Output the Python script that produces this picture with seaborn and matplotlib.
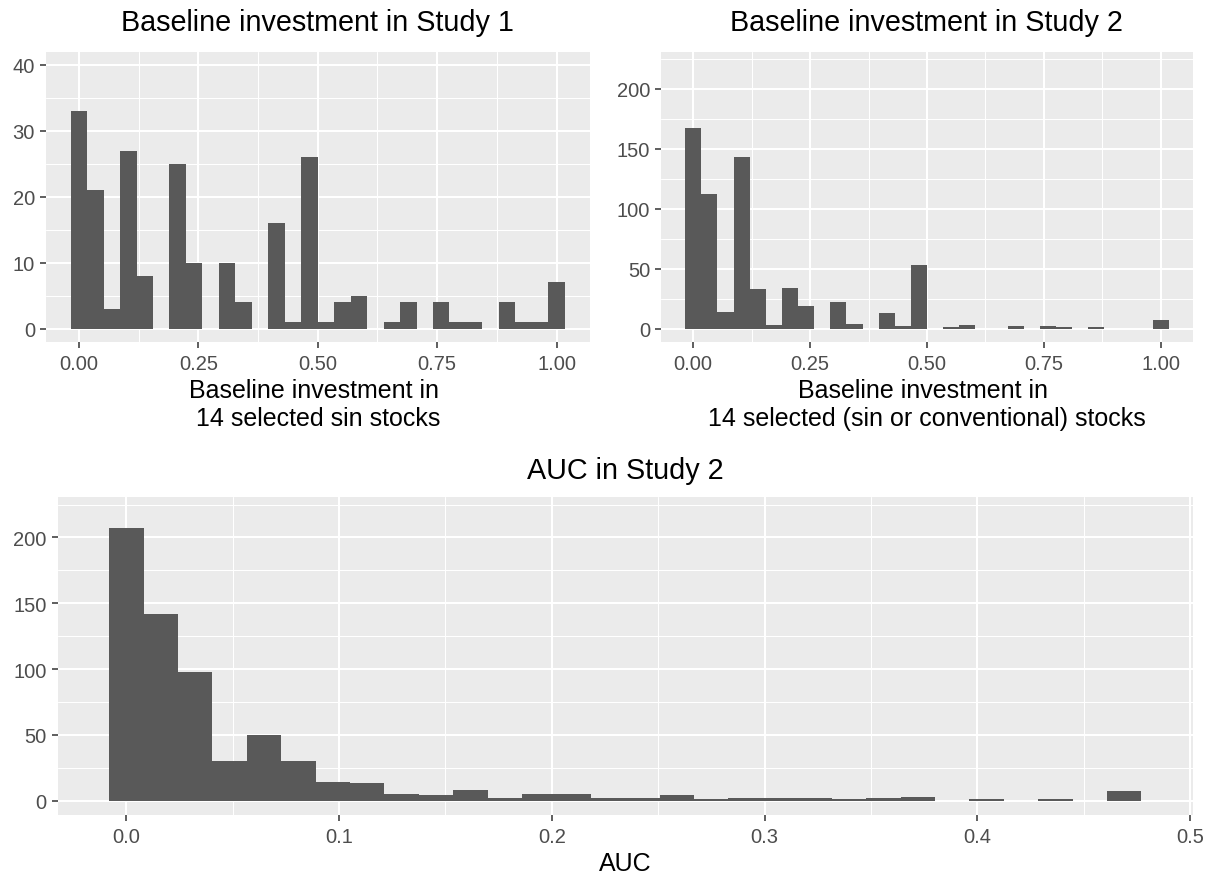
import numpy as np
import pandas as pd
import matplotlib
matplotlib.use("Agg")
import matplotlib.pyplot as plt
import seaborn as sns
from matplotlib.ticker import FixedLocator

# ---------------- data (bin counts, 30 bins each) ----
study1_counts = [33, 21, 3, 27, 8, 0, 25, 10, 0, 10, 4, 0, 16, 1, 26,
                 1, 4, 5, 0, 1, 4, 0, 4, 1, 1, 0, 4, 1, 1, 7]
study2_counts = [167, 112, 14, 143, 33, 3, 34, 19, 0, 22, 4, 0, 13, 2, 53,
                 0, 1, 3, 0, 0, 2, 0, 2, 1, 0, 1, 0, 0, 0, 7]
auc_counts = [207, 142, 98, 30, 50, 30, 14, 13, 5, 4, 8, 2, 5, 5, 2,
              2, 4, 1, 2, 2, 2, 1, 2, 3, 0, 1, 0, 1, 0, 7]

# data range (min, max) of each variable
study1_range = (0.0, 1.0)
study2_range = (0.0, 1.0)
auc_range = (0.0, 0.469)

titles = ["Baseline investment in Study 1",
          "Baseline investment in Study 2",
          "AUC in Study 2"]
xlabels = ["Baseline investment in \n14 selected sin stocks",
           "Baseline investment in \n14 selected (sin or conventional) stocks",
           "AUC"]

inv_ticks = [0.0, 0.25, 0.5, 0.75, 1.0]
inv_ticklabels = ["0.00", "0.25", "0.50", "0.75", "1.00"]
auc_ticks = [0.0, 0.1, 0.2, 0.3, 0.4, 0.5]
auc_ticklabels = ["0.0", "0.1", "0.2", "0.3", "0.4", "0.5"]
s1_yticks = [0, 10, 20, 30, 40]
s2_yticks = [0, 50, 100, 150, 200]

# ---------------- styling ----------------
sns.set_theme(style="darkgrid", rc={
    "axes.facecolor": "#EBEBEB",
    "grid.color": "white",
    "axes.edgecolor": "#EBEBEB",
    "axes.linewidth": 0,
    "xtick.bottom": True,
    "ytick.left": True,
    "xtick.color": "#333333",
    "ytick.color": "#333333",
    "xtick.labelcolor": "#4D4D4D",
    "ytick.labelcolor": "#4D4D4D",
    "xtick.major.size": 4,
    "ytick.major.size": 4,
    "xtick.major.width": 1.1,
    "ytick.major.width": 1.1,
    "xtick.major.pad": 4.5,
    "ytick.major.pad": 3.8,
    "figure.facecolor": "white",
})
plt.rcParams["font.family"] = ["Liberation Sans", "DejaVu Sans"]

W, H = 1213, 879
fig = plt.figure(figsize=(W / 100, H / 100), dpi=100)


def rect(l, t, r, b):
    return [l / W, 1 - b / H, (r - l) / W, (b - t) / H]


TICK_FS = 14.5
TITLE_FS = 20.7
LABEL_FS = 18
BAR = "#595959"


def draw(ax, counts, rng, xticks, xticklabels, yticks, ylim, title, xlabel,
         title_pad):
    n = len(counts)
    bw = (rng[1] - rng[0]) / (n - 1)
    centers = np.linspace(rng[0], rng[1], n)
    lo, hi = centers[0] - bw / 2, centers[-1] + bw / 2
    df = pd.DataFrame({"x": centers, "n": counts})
    sns.histplot(data=df, x="x", weights="n", bins=n, binrange=(lo, hi),
                 color=BAR, alpha=1, linewidth=0, ax=ax)
    span = hi - lo
    ax.set_xlim(lo - 0.05 * span, hi + 0.05 * span)
    ax.set_ylim(ylim[0] - 0.05 * (ylim[1] - ylim[0]),
                ylim[1] + 0.05 * (ylim[1] - ylim[0]))
    ax.set_xticks(xticks)
    ax.set_xticklabels(xticklabels, fontsize=TICK_FS)
    ax.set_yticks(yticks)
    ax.set_yticklabels([str(v) for v in yticks], fontsize=TICK_FS)
    xt = np.array(xticks)
    ax.xaxis.set_minor_locator(FixedLocator(list((xt[:-1] + xt[1:]) / 2)))
    yt = np.array(yticks)
    ystep = yt[1] - yt[0]
    ax.yaxis.set_minor_locator(FixedLocator(list(yt + ystep / 2)))
    ax.tick_params(which="minor", length=0)
    ax.grid(which="major", color="white", linewidth=1.5)
    ax.grid(which="minor", color="white", linewidth=0.75)
    ax.set_axisbelow(True)
    for s in ax.spines.values():
        s.set_visible(False)
    ax.set_ylabel("")
    ax.set_title(title, fontsize=TITLE_FS, pad=title_pad, color="black")
    ax.set_xlabel(xlabel, fontsize=LABEL_FS, labelpad=4.0, color="black",
                  linespacing=1.22)


ax1 = fig.add_axes(rect(45.9, 52.7, 589.5, 342.7))
draw(ax1, study1_counts, study1_range, inv_ticks, inv_ticklabels,
     s1_yticks, (0, 40), titles[0], xlabels[0], 15.5)

ax2 = fig.add_axes(rect(661, 52.7, 1193, 342.7))
draw(ax2, study2_counts, study2_range, inv_ticks, inv_ticklabels,
     s2_yticks, (0, 220), titles[1], xlabels[1], 15.5)

ax3 = fig.add_axes(rect(57.5, 497.7, 1193, 816))
draw(ax3, auc_counts, auc_range, auc_ticks, auc_ticklabels,
     s2_yticks, (0, 220), titles[2], xlabels[2], 13.6)

fig.savefig("out.png", dpi=100)
